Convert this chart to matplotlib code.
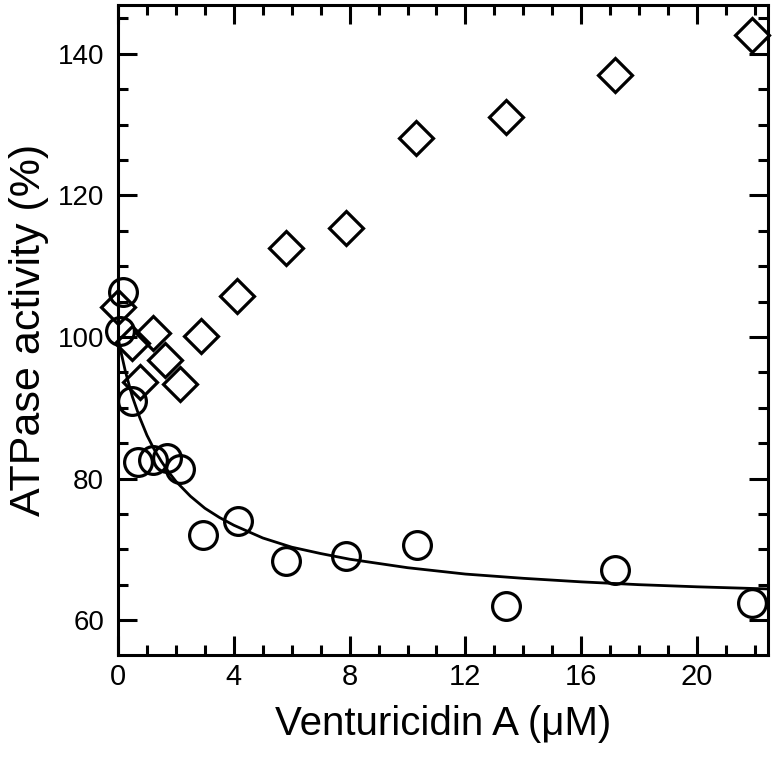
import numpy as np
import matplotlib.pyplot as plt
from matplotlib.ticker import MultipleLocator

plt.rcParams['font.family'] = ['Liberation Sans', 'DejaVu Sans']

# diamonds
dia_x = [0.0, 0.48, 0.76, 1.2, 1.62, 2.14, 2.88, 4.1, 5.8, 7.86, 10.3, 13.4, 17.17, 21.9]
dia_y = [104.2, 99.2, 93.6, 100.6, 96.7, 93.4, 100.2, 105.8, 112.6, 115.4, 128.1, 131.1, 137.0, 142.7]

# circles
cir_x = [0.17, 0.07, 0.48, 0.69, 1.2, 1.7, 2.14, 2.93, 4.14, 5.8, 7.86, 10.34, 13.4, 17.17, 21.9]
cir_y = [106.3, 100.9, 91.0, 82.4, 82.6, 82.9, 81.4, 72.0, 74.0, 68.3, 69.1, 70.6, 62.0, 67.1, 62.4]

# fitted curve
fit_x = [0.0, 0.05, 0.1, 0.15, 0.25, 0.35, 0.5, 0.75, 1.0, 1.25, 1.5, 1.75, 2.0, 2.5, 3.0, 3.5,
         4.0, 5.0, 6.0, 7.0, 8.0, 10.0, 12.0, 14.0, 16.0, 18.0, 20.0, 22.45]
fit_y = [100.0, 98.9, 97.9, 97.0, 95.2, 93.7, 91.5, 88.6, 86.1, 84.1, 82.4, 80.9, 79.6, 77.5, 75.8, 74.5,
         73.4, 71.6, 70.3, 69.4, 68.6, 67.4, 66.5, 65.9, 65.4, 65.0, 64.7, 64.4]

fig = plt.figure(figsize=(7.74, 7.60), dpi=100)
ax = fig.add_axes([0.1525, 0.1382, 0.8397, 0.8552])

ax.plot(fit_x, fit_y, color='black', lw=2.0, zorder=2)
ax.plot(dia_x, dia_y, linestyle='none', marker='D', ms=17.5, mfc='none',
        mec='black', mew=2.3, zorder=3, clip_on=False)
ax.plot(cir_x, cir_y, linestyle='none', marker='o', ms=20, mfc='none',
        mec='black', mew=2.3, zorder=3, clip_on=False)

ax.set_xlim(0, 22.45)
ax.set_ylim(55.07, 146.9)
ax.xaxis.set_major_locator(MultipleLocator(4))
ax.xaxis.set_minor_locator(MultipleLocator(1))
ax.yaxis.set_major_locator(MultipleLocator(20))
ax.yaxis.set_minor_locator(MultipleLocator(5))
ax.tick_params(which='both', direction='in', top=True, right=True, width=2.2,
               colors='black')
ax.tick_params(which='major', length=14)
ax.tick_params(which='minor', length=7.5)
ax.tick_params(axis='y', labelsize=20, pad=10)
ax.tick_params(axis='x', labelsize=21, pad=6)
for s in ax.spines.values():
    s.set_linewidth(2.2)

ax.set_xlabel('Venturicidin A (\u03bcM)', fontsize=29, labelpad=10)
ax.set_ylabel('ATPase activity (%)', fontsize=31, labelpad=6)

fig.savefig('out.png', dpi=100)
